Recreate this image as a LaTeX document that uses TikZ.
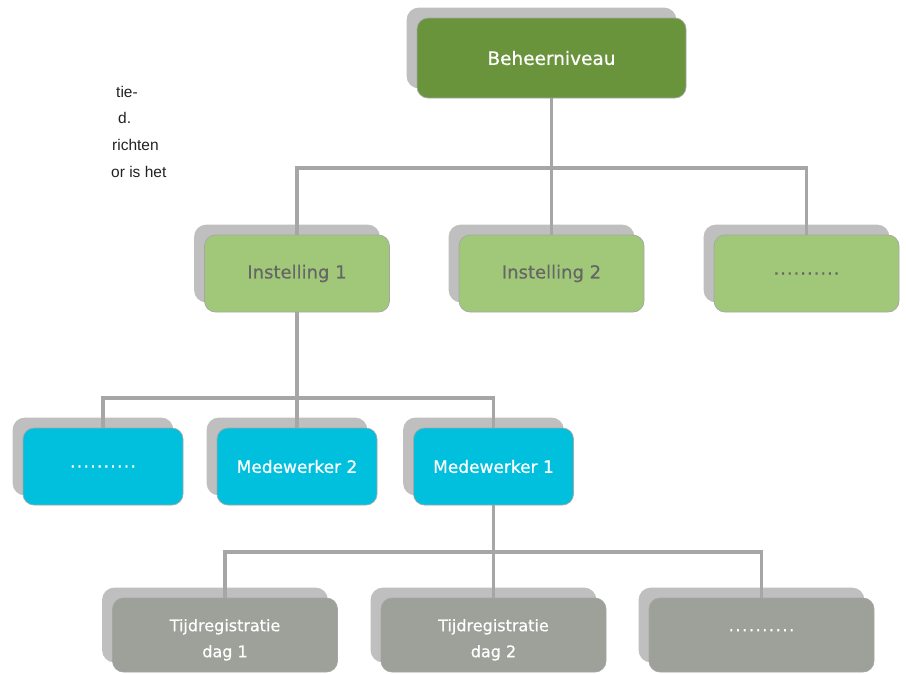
\documentclass[tikz,border=0pt]{standalone}
\usepackage{fontspec}
\setmainfont{DejaVu Sans}
\newfontfamily\boxfont[FakeBold=0.6]{DejaVu Sans}
\newfontfamily\leftfont{Liberation Sans}
\pgfdeclarelayer{shadowlayer}
\pgfdeclarelayer{connlayer}
\pgfsetlayers{shadowlayer,connlayer,main}
\definecolor{topgreen}{HTML}{6A943C}
\definecolor{lightgreen}{HTML}{A0C878}
\definecolor{boxblue}{HTML}{00C0DE}
\definecolor{boxgray}{HTML}{9EA199}
\definecolor{shadowc}{HTML}{BFBFBF}
\definecolor{connc}{HTML}{A6A6A6}
\definecolor{darktext}{HTML}{666666}
\definecolor{bodytext}{HTML}{222222}
\newcommand\dd{\makebox[6.7pt]{.}}
\newcommand\dotrow{\dd\dd\dd\dd\dd\dd\dd\dd\dd\dd}
\newcommand\twolines[2]{\raisebox{-4pt}[\height][\depth]{\begin{tabular}{@{}c@{}}#1\\#2\end{tabular}}}
\tikzset{
  box/.style={rectangle, rounded corners=11pt, inner sep=0pt, draw=connc, line width=0.7pt, align=center},
  topbox/.style={box, fill=topgreen, text=white, minimum width=269pt, minimum height=80pt, font=\boxfont\fontsize{18.5}{22}\selectfont},
  instbox/.style={box, fill=lightgreen, text=darktext, minimum width=185pt, minimum height=77pt, font=\boxfont\fontsize{18}{22}\selectfont},
  medbox/.style={box, fill=boxblue, text=white, minimum width=160pt, minimum height=77pt, font=\boxfont\fontsize{17}{20}\selectfont},
  tijdbox/.style={box, fill=boxgray, text=white, minimum width=225pt, minimum height=74pt, font=\boxfont\fontsize{16}{26}\selectfont},
  conn/.style={draw=connc, line width=3.5pt},
  shadowbox/.style={fill=shadowc, rounded corners=12pt},
  bodyline/.style={anchor=base west, inner sep=0pt, text=bodytext, font=\leftfont\fontsize{15.5}{18}\selectfont}
}
\begin{document}
\begin{tikzpicture}[x=1pt, y=-1pt]
\useasboundingbox (0,0) rectangle (906,673);
% left text (cut off)
\node[bodyline] (l1) at (116,97) {tie-};
\node[bodyline] (l2) at (118,123) {d.};
\node[bodyline] (l3) at (112,150) {richten};
\node[bodyline] (l4) at (111,177) {or is het};
% boxes
\node[topbox] (top) at (551.5,58) {Beheerniveau};
\node[instbox] (i1) at (297,273.5) {Instelling 1};
\node[instbox] (i2) at (551.5,273.5) {Instelling 2};
\node[instbox] (i3) at (806.5,273.5) {\dotrow};
\node[medbox] (m3) at (103,466.5) {\dotrow};
\node[medbox] (m2) at (297,466.5) {Medewerker 2};
\node[medbox] (m1) at (493.5,466.5) {Medewerker 1};
\node[tijdbox] (t1) at (225,635) {\twolines{Tijdregistratie}{dag 1}};
\node[tijdbox] (t2) at (493.5,635) {\twolines{Tijdregistratie}{dag 2}};
\node[tijdbox] (t3) at (761.5,635) {\twolines{\dotrow}{\strut}};
% shadows
\begin{pgfonlayer}{shadowlayer}
\foreach \n in {top,i1,i2,i3,m1,m2,m3,t1,t2,t3}
  \fill[shadowbox] ([xshift=-10pt,yshift=10pt]\n.south west) rectangle ([xshift=-10pt,yshift=10pt]\n.north east);
\end{pgfonlayer}
% connectors
\coordinate (j1) at (551.5,168);
\coordinate (j2) at (297,398);
\coordinate (j3) at (493.5,552);
\begin{pgfonlayer}{connlayer}
\draw[conn] (top.south) -- (j1);
\draw[conn] (i1.north) |- (j1) -| (i3.north);
\draw[conn] (j1) -- (i2.north);
\draw[conn] (i1.south) -- (j2);
\draw[conn] (m3.north) |- (j2) -| (m1.north);
\draw[conn] (j2) -- (m2.north);
\draw[conn] (m1.south) -- (j3);
\draw[conn] (t1.north) |- (j3) -| (t3.north);
\draw[conn] (j3) -- (t2.north);
\end{pgfonlayer}
\end{tikzpicture}
\end{document}
